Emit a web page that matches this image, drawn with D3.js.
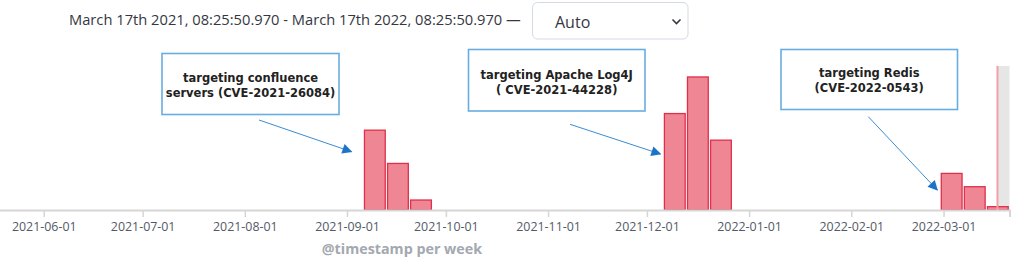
<!DOCTYPE html>
<html>
<head>
<meta charset="utf-8">
<script src="https://cdn.jsdelivr.net/npm/d3@7"></script>
<style>
html,body{margin:0;padding:0;background:#fff;overflow:hidden;}
svg{display:block;}
</style>
</head>
<body>
<svg id="chart" width="1024" height="266"></svg>
<script>
// ---- data ----
const rangeLabel = "March 17th 2021, 08:25:50.970 - March 17th 2022, 08:25:50.970 \u2014";
const intervalLabel = "Auto";
const weekStarts = ["2021-09-06","2021-09-13","2021-09-20","2021-12-06","2021-12-13","2021-12-20","2022-02-28","2022-03-07","2022-03-14"];
const counts = [24, 14, 3, 29, 40, 21, 11, 7, 1];
const tickLabels = ["2021-06-01","2021-07-01","2021-08-01","2021-09-01","2021-10-01","2021-11-01","2021-12-01","2022-01-01","2022-02-01","2022-03-01"];
const axisTitle = "@timestamp per week";
const rangeStart = "2021-03-17T08:25:50.970";
const rangeNow = "2022-03-17T08:25:50.970";
const rangeEnd = "2022-03-21T00:00:00";
const annotationLines = [
  ["targeting confluence", "servers (CVE-2021-26084)"],
  ["targeting Apache Log4J", "( CVE-2021-44228)"],
  ["targeting Redis", "(CVE-2022-0543)"]
];
const annotationTargets = ["2021-09-06","2021-12-06","2022-02-28"];

// ---- layout ----
const parse = d3.timeParse("%Y-%m-%d");
const parseT = d3.timeParse("%Y-%m-%dT%H:%M:%S.%L");
const parseT2 = d3.timeParse("%Y-%m-%dT%H:%M:%S");
const t0 = parseT(rangeStart), tNow = parseT(rangeNow), t1 = parseT2(rangeEnd);
const plotTop = 66, plotBottom = 210;
const x = d3.scaleTime().domain([t0, t1]).range([-205.6, 1009.5]);
const y = d3.scaleLinear().domain([0, 43.3]).range([plotBottom, plotTop]);

const svg = d3.select("#chart");

// header
svg.append("text").attr("x", 69).attr("y", 25)
  .attr("font-family", "Open Sans").attr("font-size", 14.7).attr("fill", "#343741")
  .text(rangeLabel);
svg.append("rect").attr("x", 532.5).attr("y", 2.5).attr("width", 155.5).attr("height", 36.5)
  .attr("rx", 5).attr("fill", "#fff").attr("stroke", "#d3dae6").attr("stroke-width", 1);
svg.append("text").attr("x", 555).attr("y", 27.5)
  .attr("font-family", "Open Sans").attr("font-size", 16).attr("fill", "#343741")
  .text(intervalLabel);
svg.append("path").attr("d", "M672.5,19.5 L676.5,23.5 L680.5,19.5")
  .attr("fill", "none").attr("stroke", "#343741").attr("stroke-width", 1.6);

// "now" shaded region
svg.append("rect").attr("x", x(tNow)).attr("y", plotTop)
  .attr("width", x(t1) - x(tNow)).attr("height", plotBottom - plotTop)
  .attr("fill", "#e6e6e6");

// bars
const data = weekStarts.map((d, i) => ({ d: parse(d), v: counts[i] }));
svg.append("g").selectAll("rect").data(data).join("rect")
  .attr("x", d => x(d.d) + 1)
  .attr("y", d => y(d.v))
  .attr("width", d => x(d3.timeDay.offset(d.d, 7)) - x(d.d) - 2.3)
  .attr("height", d => plotBottom - y(d.v))
  .attr("fill", "#ee8793")
  .attr("stroke", "#df2f4b")
  .attr("stroke-width", 1.3);

// now line
svg.append("line").attr("x1", x(tNow)).attr("x2", x(tNow))
  .attr("y1", plotTop).attr("y2", plotBottom)
  .attr("stroke", "#f2a0a8").attr("stroke-width", 2);

// axis
const axis = d3.axisBottom(x)
  .tickValues(tickLabels.map(parse).concat([t1]))
  .tickFormat(d => { const s = d3.timeFormat("%Y-%m-%d")(d); return tickLabels.includes(s) ? s : ""; })
  .tickSize(7).tickPadding(5);
const gx = svg.append("g").attr("transform", `translate(0,${plotBottom})`).call(axis);
gx.select(".domain").attr("stroke", "#d6d6d6").attr("stroke-width", 2);
gx.selectAll(".tick line").attr("stroke", "#d6d6d6").attr("stroke-width", 1.5);
gx.selectAll(".tick text").attr("font-family", "Open Sans").attr("font-size", 12.4)
  .attr("fill", "#535966");

svg.append("text").attr("x", (x.range()[0] + x.range()[1]) / 2).attr("y", 254)
  .attr("text-anchor", "middle").attr("font-family", "Open Sans").attr("font-weight", "bold")
  .attr("font-size", 14.3).attr("fill", "#a4a8b0").text(axisTitle);

// annotations
const defs = svg.append("defs");
defs.append("marker").attr("id", "ah").attr("viewBox", "0 0 10 10").attr("refX", 9).attr("refY", 5)
  .attr("markerWidth", 12).attr("markerHeight", 10).attr("markerUnits", "userSpaceOnUse")
  .attr("orient", "auto")
  .append("path").attr("d", "M0,0 L10,5 L0,10 z").attr("fill", "#1c74c6");

const boxes = [
  { x: 162, y: 53.5, w: 177, h: 61, ty: 81.5, from: [259, 120], dx: -12, tipY: 151.7 },
  { x: 468.5, y: 49.5, w: 176.5, h: 61.5, ty: 78.5, from: [570, 124.3], dx: -3, tipY: 154 },
  { x: 781, y: 49.5, w: 176.5, h: 60, ty: 76.5, from: [868.3, 116.7], dx: -3, tipY: 190 }
];
boxes.forEach((b, i) => {
  const tx = x(parse(annotationTargets[i])) + b.dx;
  svg.append("rect").attr("x", b.x).attr("y", b.y).attr("width", b.w).attr("height", b.h)
    .attr("fill", "#fff").attr("stroke", "#68ade2").attr("stroke-width", 1.6);
  const t = svg.append("text").attr("x", b.x + b.w / 2).attr("y", b.ty).attr("text-anchor", "middle")
    .attr("font-family", "DejaVu Sans").attr("font-weight", "bold").attr("font-size", 11.5)
    .attr("fill", "#222");
  annotationLines[i].forEach((l, j) => t.append("tspan").attr("x", b.x + b.w / 2).attr("dy", j ? 15.5 : 0).text(l));
  svg.append("line").attr("x1", b.from[0]).attr("y1", b.from[1]).attr("x2", tx).attr("y2", b.tipY)
    .attr("stroke", "#3a8cd2").attr("stroke-width", 1).attr("marker-end", "url(#ah)");
});
</script>
</body>
</html>
